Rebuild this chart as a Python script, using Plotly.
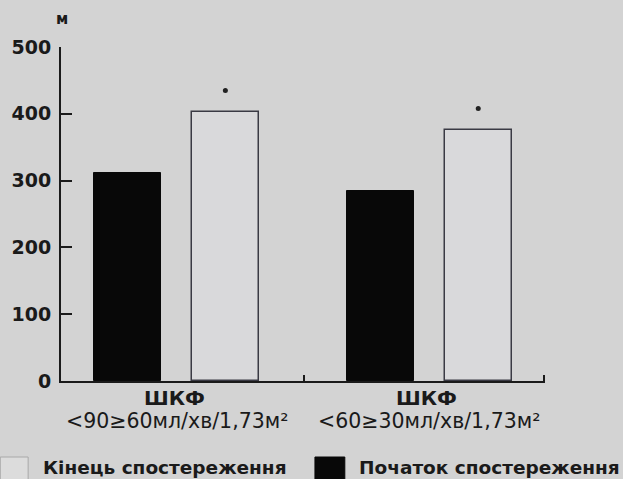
import plotly.graph_objects as go

# ---- data ----
groups = [0, 1]
group_titles = ["ШКФ", "ШКФ"]
group_subtitles = ["<90≥60мл/хв/1,73м²", "<60≥30мл/хв/1,73м²"]
start_values = [311, 284]      # Початок спостереження (black)
end_values = [402, 376]        # Кінець спостереження (light)
star_values = [435, 408]       # significance markers
y_ticks = [0, 100, 200, 300, 400, 500]
legend_labels = ["Кінець спостереження", "Початок спостереження"]
unit_label = "м"

BG = "#d3d3d3"
INK = "#1a1a1a"
FONT = "DejaVu Sans"

# plot area in pixels (for placing free text / legend)
W, H = 623, 479
L, R, T, B = 59, 78, 47, 98
PW, PH = W - L - R, H - T - B


def px_x(p):
    return (p - L) / PW


def px_y(p):
    return (H - B - p) / PH


bar_w = 0.265
fig = go.Figure()
fig.add_trace(go.Bar(
    x=groups, y=start_values, width=bar_w, offset=-0.193 - bar_w / 2,
    marker=dict(color="#080808", line=dict(color="#080808", width=1)),
    name=legend_labels[1], showlegend=False,
))
fig.add_trace(go.Bar(
    x=groups, y=end_values, width=bar_w, offset=0.193 - bar_w / 2,
    marker=dict(color="#d9d9db", line=dict(color="#3a3a44", width=1.5)),
    name=legend_labels[0], showlegend=False,
))
fig.add_trace(go.Scatter(
    x=[g + 0.193 for g in groups], y=star_values, mode="markers",
    marker=dict(color="#222", size=5), showlegend=False, hoverinfo="skip",
))

annotations = []
for g, t, s in zip(groups, group_titles, group_subtitles):
    annotations.append(dict(x=g - 0.01, y=px_y(398), xref="x", yref="paper",
                            text="<b>%s</b>" % t, showarrow=False,
                            font=dict(family=FONT, size=20, color=INK),
                            xanchor="center", yanchor="middle"))
    annotations.append(dict(x=g + 0.0, y=px_y(421), xref="x", yref="paper",
                            text=s, showarrow=False,
                            font=dict(family=FONT, size=20.5, color=INK),
                            xanchor="center", yanchor="middle"))

annotations.append(dict(x=px_x(60), y=px_y(19), xref="paper", yref="paper",
                        text="<b>%s</b>" % unit_label, showarrow=False,
                        font=dict(family=FONT, size=15, color=INK),
                        xanchor="center", yanchor="middle"))

# legend (manual)
shapes = [
    dict(type="rect", xref="paper", yref="paper",
         x0=px_x(-2), x1=px_x(26), y0=px_y(482), y1=px_y(457),
         fillcolor="#dcdcdc", line=dict(color="#a8a8a8", width=1)),
    dict(type="rect", xref="paper", yref="paper",
         x0=px_x(314), x1=px_x(344), y0=px_y(482), y1=px_y(457),
         fillcolor="#080808", line=dict(color="#080808", width=1)),
]
annotations.append(dict(x=px_x(39), y=px_y(468), xref="paper", yref="paper",
                        text="<b>%s</b>" % legend_labels[0], showarrow=False,
                        font=dict(family=FONT, size=18.5, color=INK),
                        xanchor="left", yanchor="middle"))
annotations.append(dict(x=px_x(356), y=px_y(468), xref="paper", yref="paper",
                        text="<b>%s</b>" % legend_labels[1], showarrow=False,
                        font=dict(family=FONT, size=18.5, color=INK),
                        xanchor="left", yanchor="middle"))

fig.update_layout(
    width=W, height=H,
    margin=dict(l=L, r=R, t=T, b=B, pad=0),
    paper_bgcolor=BG, plot_bgcolor=BG,
    annotations=annotations, shapes=shapes,
    bargap=0,
    xaxis=dict(range=[-0.457, 1.457], showgrid=False, zeroline=False,
               showline=True, linecolor=INK, linewidth=2,
               tickmode="array", tickvals=[0.504, 1.452], ticks="inside",
               ticklen=6, tickwidth=2, tickcolor=INK, showticklabels=False),
    yaxis=dict(range=[0, 500], showgrid=False, zeroline=False,
               showline=True, linecolor=INK, linewidth=2,
               tickmode="array", tickvals=y_ticks,
               ticktext=["<b>%d</b>" % v for v in y_ticks],
               ticks="inside", ticklen=11, tickwidth=2, tickcolor=INK,
               ticklabelstandoff=4,
               tickfont=dict(family=FONT, size=19, color=INK)),
)

fig.write_html(
    "out.html",
    config={"displayModeBar": False},
    post_script="document.body.style.margin='0';document.body.style.padding='0';"
                "document.body.style.background='%s';" % BG,
)
